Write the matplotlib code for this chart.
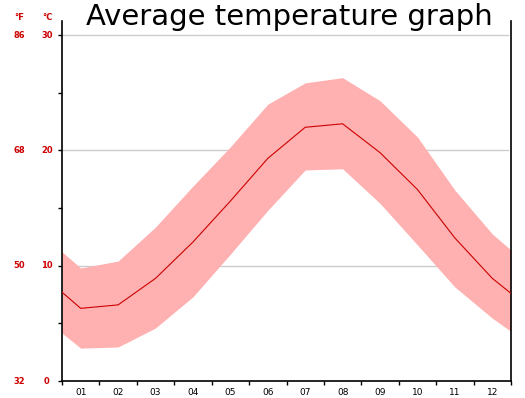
import matplotlib
matplotlib.use("Agg")
import matplotlib.pyplot as plt
import numpy as np

# Data (°C), positions 0 and 12 are the chart edges, months at centers
x_pos = [0, 0.5, 1.5, 2.5, 3.5, 4.5, 5.5, 6.5, 7.5, 8.5, 9.5, 10.5, 11.5, 12]
mean_t = [7.7, 6.3, 6.6, 8.9, 12.05, 15.6, 19.3, 22.0, 22.3, 19.8, 16.6, 12.4, 8.9, 7.6]
upper_t = [11.2, 9.8, 10.4, 13.35, 16.9, 20.3, 24.0, 25.85, 26.3, 24.3, 21.15, 16.55, 12.75, 11.35]
lower_t = [4.15, 2.85, 2.95, 4.6, 7.3, 11.0, 14.8, 18.3, 18.4, 15.4, 11.8, 8.15, 5.45, 4.3]
month_labels = ["01", "02", "03", "04", "05", "06", "07", "08", "09", "10", "11", "12"]
c_ticks = [0, 10, 20, 30]
f_labels = ["32", "50", "68", "86"]

W, H = 525, 398
fig = plt.figure(figsize=(W / 100, H / 100), dpi=100)
left, right, bottom, top = 62, 511, 381, 21
ax = fig.add_axes([left / W, (H - bottom) / H, (right - left) / W, (bottom - top) / H])

ymax = (bottom - top) / ((bottom - 35) / 30)
ax.set_xlim(0, 12)
ax.set_ylim(0, ymax)

for c in c_ticks[1:]:
    ax.axhline(c, xmin=0, xmax=0.994, color="#cccccc", lw=1, zorder=1)

ax.fill_between(x_pos, lower_t, upper_t, color="#ffb0b0", lw=0, zorder=2)
ax.plot(x_pos, mean_t, color="#cc0000", lw=0.8, zorder=3)

for s in ["top"]:
    ax.spines[s].set_visible(False)
for s in ["left", "bottom", "right"]:
    ax.spines[s].set_color("black")
    ax.spines[s].set_linewidth(1.2)

ax.set_yticks(c_ticks)
ax.set_yticklabels([])
ax.set_yticks([5, 15, 25], minor=True)
ax.tick_params(axis="y", which="both", length=3, width=1, color="black", direction="out")
ax.set_xticks(range(13))
ax.set_xticklabels([])
ax.set_xticks([i + 0.5 for i in range(12)], minor=True)
ax.set_xticklabels(month_labels, minor=True, fontsize=6.5, fontfamily="DejaVu Sans")
ax.tick_params(axis="x", which="major", length=3, width=1, color="black", direction="out")
ax.tick_params(axis="x", which="minor", length=0, pad=5)

red = "#cc0000"
for c, f in zip(c_ticks, f_labels):
    yf = (H - bottom + (bottom - top) * c / ymax) / H
    fig.text(47 / W, yf, str(c), color=red, fontsize=6, ha="center", va="center", fontweight="bold")
    fig.text(19 / W, yf, f, color=red, fontsize=6, ha="center", va="center", fontweight="bold")
fig.text(47 / W, (H - 17) / H, "°C", color=red, fontsize=6, ha="center", va="center", fontweight="bold")
fig.text(19 / W, (H - 17) / H, "°F", color=red, fontsize=6, ha="center", va="center", fontweight="bold")

fig.text(289 / W, (H - 17) / H, "Average temperature graph", fontsize=21, ha="center", va="center",
         fontfamily="DejaVu Sans", color="black")

fig.savefig("out.png", dpi=100)
